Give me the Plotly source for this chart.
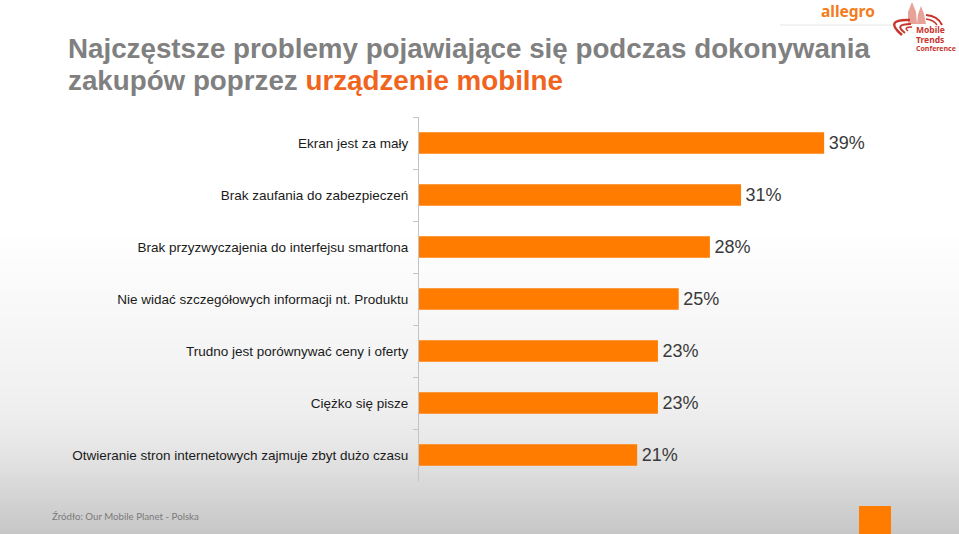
import plotly.graph_objects as go

categories = [
    "Ekran jest za mały",
    "Brak zaufania do zabezpieczeń",
    "Brak przyzwyczajenia do interfejsu smartfona",
    "Nie widać szczegółowych informacji nt. Produktu",
    "Trudno jest porównywać ceny i oferty",
    "Ciężko się pisze",
    "Otwieranie stron internetowych zajmuje zbyt dużo czasu",
]
values = [39, 31, 28, 25, 23, 23, 21]
value_labels = ["39%", "31%", "28%", "25%", "23%", "23%", "21%"]

W, H = 959, 534
L, R, T, B = 419, 59, 117, 53
FONT = "Liberation Sans, Arial, sans-serif"
def px(x): return (x - L) / (W - L - R)
def py(y): return 1 - (y - T) / (H - T - B)

fig = go.Figure(go.Bar(
    y=categories, x=values, orientation="h",
    marker=dict(color="#FF7C00", line=dict(width=0)),
    text=value_labels, textposition="outside", cliponaxis=False,
    texttemplate="\u200a%{text}",
    textfont=dict(family=FONT, size=18, color="#3a3a3a"),
    width=0.41,
))

# page background: white fading slowly, then faster toward the bottom
shapes = []
stops = [(230, 255), (400, 240), (440, 232), (480, 218), (534, 198)]
step = 3
for y in range(230, H, step):
    for (ya, ca), (yb, cb) in zip(stops, stops[1:]):
        if ya <= y <= yb:
            c = round(ca + (cb - ca) * (y - ya) / (yb - ya))
            break
    shapes.append(dict(type="rect", xref="paper", yref="paper", layer="below",
                       x0=px(0), x1=px(W), y0=py(y), y1=py(y + step),
                       fillcolor=f"rgb({c},{c},{c})", line=dict(width=0)))
shapes.append(dict(type="rect", xref="paper", yref="paper", layer="above",
                   x0=px(859), x1=px(891), y0=py(506), y1=py(H),
                   fillcolor="#FF7C00", line=dict(width=0)))
shapes.append(dict(type="line", xref="paper", yref="paper", layer="below",
                   x0=px(780), x1=px(895), y0=py(25), y1=py(25),
                   line=dict(color="#e6e6e6", width=1)))

# conference logo
RED = "#C8352E"
def logo_path(pts):
    return "M " + " L ".join(f"{px(x):.5f},{py(y):.5f}" for x, y in pts) + " Z"
towers = [(908, 24), (908, 12), (912, 2), (916, 12), (917, 24)], [(917, 24), (918, 14), (921, 6), (924, 14), (926, 24)]
for t in towers:
    shapes.append(dict(type="path", xref="paper", yref="paper", path=logo_path(t),
                       fillcolor="#E8A398", line=dict(width=0)))
for (xa, ya, xb, yb, xc, yc, w) in [
    (910, 20, 883, 19, 902, 35, 2.5), (911, 24, 893, 24, 905, 33, 2), (912, 27, 903, 27, 908, 31, 1.5),
    (926, 15, 938, 16, 942, 25, 2), (926, 19, 934, 20, 937, 25, 1.5),
]:
    path = (f"M {px(xa):.5f},{py(ya):.5f} Q {px(xb):.5f},{py(yb):.5f} {px(xc):.5f},{py(yc):.5f}")
    shapes.append(dict(type="path", xref="paper", yref="paper", path=path, line=dict(color=RED, width=w)))

def note(x, y, text, size, color, anchor="left", bold=False, family=FONT):
    return dict(xref="paper", yref="paper", x=px(x), y=py(y), text=f"<b>{text}</b>" if bold else text,
                showarrow=False, xanchor=anchor, yanchor="middle",
                font=dict(family=family, size=size, color=color), align=anchor)

annotations = [
    note(66, 48, "Najczęstsze problemy pojawiające się podczas dokonywania", 27.75, "#808080", bold=True),
    note(66, 81, "<b>zakupów poprzez </b><b><span style='color:#F0641E'>urządzenie mobilne</span></b>", 27.75, "#808080"),
    note(50, 516, "Źródło: Our Mobile Planet - Polska", 9.7, "#7a7a7a", family="Lato, sans-serif"),
    note(848, 11, "allegro", 15.5, "#F47B20", anchor="center", bold=True, family="Noto Sans, sans-serif"),
    note(914, 30, "Mobile", 8.5, RED, bold=True, family="Noto Sans, sans-serif"),
    note(914, 39, "Trends", 8.5, RED, bold=True, family="Noto Sans, sans-serif"),
    note(914, 48, "Conference", 7, RED, bold=True, family="Noto Sans, sans-serif"),
]

fig.update_layout(
    width=W, height=H,
    margin=dict(l=L, r=R, t=T, b=B),
    paper_bgcolor="white", plot_bgcolor="rgba(0,0,0,0)",
    showlegend=False, shapes=shapes, annotations=annotations,
    font=dict(family=FONT),
    xaxis=dict(range=[0, 46.3], visible=False),
    yaxis=dict(autorange="reversed", type="category", showgrid=False,
               showline=True, linecolor="#c4c4c4", linewidth=1,
               ticks="outside", ticklen=5, tickcolor="#c4c4c4", tickson="boundaries",
               tickfont=dict(family=FONT, size=13.5, color="#1a1a1a"), ticklabelstandoff=7),
)
fig.write_html("out.html", config={"displayModeBar": False},
               post_script="document.body.style.margin='0';document.documentElement.style.overflow='hidden';")
